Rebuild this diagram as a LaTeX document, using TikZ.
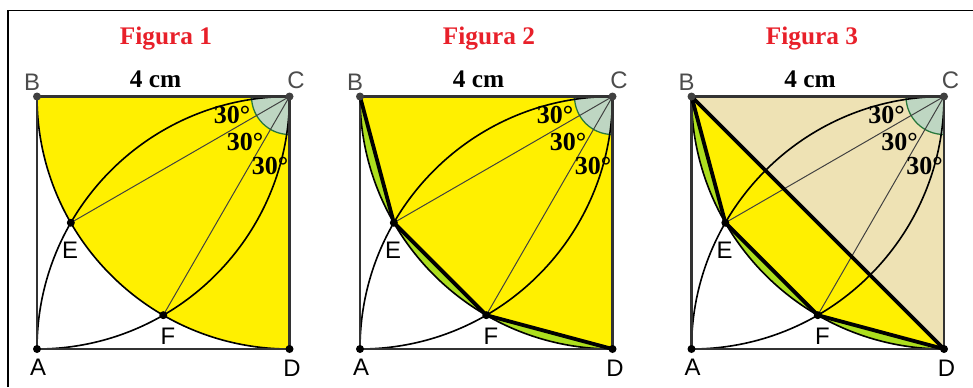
\documentclass[tikz,border=0pt]{standalone}
\usepackage{fontspec}
\setmainfont{Liberation Serif}
\newfontfamily\lsans{Liberation Sans}
\definecolor{fyellow}{RGB}{255,240,0}
\definecolor{fgreen}{RGB}{172,222,30}
\definecolor{ftan}{RGB}{238,226,180}
\definecolor{fangle}{RGB}{190,214,194}
\definecolor{fangleline}{RGB}{40,120,60}
\definecolor{ftitle}{RGB}{232,32,42}
\newcommand{\PanelPts}[2]{%
  \coordinate (B#1) at (#2,96.5);
  \coordinate (C#1) at ({#2+252.5},96.5);
  \coordinate (D#1) at ({#2+252.5},349);
  \coordinate (A#1) at (#2,349);
  \coordinate (E#1) at ({#2+33.83},222.75);
  \coordinate (F#1) at ({#2+126.25},315.17);
}
\newcommand{\PanelLines}[1]{%
  \fill[fangle] (C#1) -- ++(180:38) arc[start angle=180,end angle=90,radius=38] -- cycle;
  \draw[fangleline, line width=0.9pt] (C#1) ++(180:38) arc[start angle=180,end angle=90,radius=38];
  \draw[arcline] (B#1) arc[start angle=180,end angle=90,radius=252.5];
  \draw[arcline] (A#1) arc[start angle=180,end angle=270,radius=252.5];
  \draw[arcline] (A#1) arc[start angle=90,end angle=0,radius=252.5];
  \draw[ray] (C#1) -- (E#1);
  \draw[ray] (C#1) -- (F#1);
  \draw[sq] (A#1) -- (B#1) -- (C#1) -- (D#1) -- cycle;
}
\newcommand{\PanelMarks}[1]{%
  \node[dot, fill=black!75] (dB#1) at (B#1) {};
  \node[dot, fill=black!75] (dC#1) at (C#1) {};
  \node[dot] (dA#1) at (A#1) {};
  \node[dot] (dD#1) at (D#1) {};
  \node[dot] (dE#1) at (E#1) {};
  \node[dot] (dF#1) at (F#1) {};
  \node[lab, text=black!70] (lB#1) at ($(B#1)+(-5,-6.5)$) {B};
  \node[lab, text=black!70] (lC#1) at ($(C#1)+(6.5,-8)$) {C};
  \node[lab] (lA#1) at ($(A#1)+(1,26)$) {A};
  \node[lab] (lD#1) at ($(D#1)+(2.5,27.5)$) {D};
  \node[lab] (lE#1) at ($(E#1)+(-0.8,35.5)$) {E};
  \node[lab] (lF#1) at ($(F#1)+(4.75,29.8)$) {F};
  \node[ang] (a1#1) at ($(C#1)+(-57.5,27)$) {30°};
  \node[ang] (a2#1) at ($(C#1)+(-44.5,53.5)$) {30°};
  \node[ang] (a3#1) at ($(C#1)+(-19.5,77.5)$) {30°};
  \node[dim] (cm#1) at ($(B#1)+(118.5,-9.5)$) {4 cm};
}
\usetikzlibrary{calc}
\begin{document}
\begin{tikzpicture}[x=0.25mm,y=-0.25mm,
  sq/.style={draw=black!80, line width=1.5pt},
  arcline/.style={black, line width=1.15pt},
  ray/.style={black!75, line width=0.7pt},
  chord/.style={black, line width=2.7pt, line cap=round},
  dot/.style={circle, fill=black, inner sep=0pt, minimum size=2mm},
  title/.style={font=\fontsize{18}{20}\selectfont\bfseries, text=ftitle, anchor=base},
  dim/.style={font=\fontsize{18}{20}\selectfont\bfseries, anchor=base, inner sep=0pt},
  ang/.style={font=\fontsize{18.5}{20}\selectfont\bfseries, anchor=base, inner sep=0pt},
  lab/.style={font=\lsans\fontsize{17}{19}\selectfont, anchor=base, inner sep=0pt}]
\useasboundingbox (0,0) rectangle (973,387);
\draw[line width=1.4pt] (8,387) -- (8,10.5) -- (973,10.5);

% Figura 1
\PanelPts{1}{37}
\fill[fyellow] (B1) arc[start angle=180,end angle=90,radius=252.5] -- (C1) -- cycle;
\PanelLines{1}
\PanelMarks{1}
\node[title] (t1) at (166,44) {Figura 1};

% Figura 2
\PanelPts{2}{360}
\fill[fgreen] (B2) arc[start angle=180,end angle=90,radius=252.5] -- (C2) -- cycle;
\fill[fyellow] (B2) -- (E2) -- (F2) -- (D2) -- (C2) -- cycle;
\PanelLines{2}
\draw[chord] (B2) -- (E2) -- (F2) -- (D2);
\PanelMarks{2}
\node[title] (t2) at (489,44) {Figura 2};

% Figura 3
\PanelPts{3}{691.5}
\fill[fgreen] (B3) arc[start angle=180,end angle=90,radius=252.5] -- (C3) -- cycle;
\fill[fyellow] (B3) -- (E3) -- (F3) -- (D3) -- cycle;
\fill[ftan] (B3) -- (C3) -- (D3) -- cycle;
\PanelLines{3}
\draw[chord] (B3) -- (E3) -- (F3) -- (D3);
\draw[chord] (B3) -- (D3);
\PanelMarks{3}
\node[title] (t3) at (812,44) {Figura 3};
\end{tikzpicture}
\end{document}
